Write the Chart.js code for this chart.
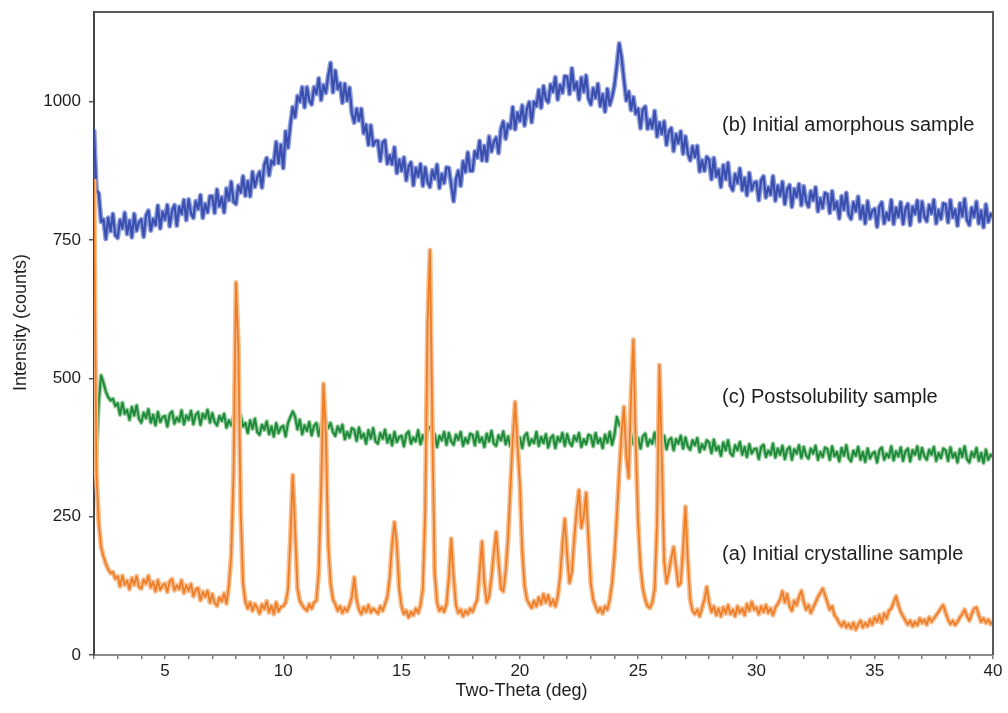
<!DOCTYPE html>
<html>
<head>
<meta charset="utf-8">
<title>X-ray powder diffraction patterns</title>
<script src="https://cdn.jsdelivr.net/npm/chart.js@4.4.1/dist/chart.umd.min.js"></script>
<style>
  html, body { margin: 0; padding: 0; background: #ffffff; }
  #wrap { position: relative; width: 1008px; height: 713px; }
</style>
</head>
<body>
<div id="wrap"><canvas id="xrd"></canvas></div>
<script>
// Scan grid of the diffractometer: 2.0° to 40.0° two-theta, 0.1° per step
const scanStart = 2.0;
const scanStep = 0.1;

// (b) initial amorphous sample, counts per step (rows of 1°, 2.0° .. 39.9°, then 40.0°)
const amorphous = [
  950, 840, 834, 783, 787, 752, 790, 766, 797, 759,
  754, 786, 771, 799, 761, 785, 755, 797, 767, 782,
  787, 756, 794, 803, 767, 788, 777, 812, 771, 801,
  787, 813, 775, 803, 813, 776, 810, 797, 822, 786,
  823, 798, 790, 820, 806, 831, 790, 815, 800, 829,
  829, 799, 841, 811, 827, 800, 843, 822, 855, 819,
  815, 848, 836, 865, 830, 856, 829, 873, 846, 863,
  873, 845, 886, 898, 867, 893, 887, 927, 889, 922,
  880, 946, 917, 958, 990, 972, 1010, 1000, 1026, 990,
  1026, 1002, 995, 1026, 1014, 1042, 1003, 1030, 1016, 1046,
  1070, 1017, 1056, 1023, 1033, 998, 1032, 1002, 1025, 979,
  962, 987, 966, 987, 943, 958, 922, 957, 921, 929,
  929, 893, 926, 930, 888, 903, 887, 917, 871, 895,
  875, 899, 858, 883, 890, 849, 880, 865, 887, 848,
  881, 855, 846, 876, 861, 886, 844, 869, 853, 881,
  880, 849, 820, 860, 875, 848, 892, 873, 908, 875,
  875, 910, 899, 929, 894, 920, 893, 937, 910, 927,
  935, 907, 950, 964, 933, 959, 952, 990, 950, 980,
  965, 993, 957, 987, 999, 963, 1000, 992, 1021, 989,
  1028, 1005, 999, 1031, 1018, 1044, 1004, 1030, 1016, 1046,
  1045, 1014, 1060, 1022, 1035, 1004, 1043, 1018, 1047, 1006,
  995, 1024, 1007, 1032, 992, 1013, 982, 1023, 994, 1009,
  1030, 1065, 1105, 1080, 1040, 1002, 1018, 985, 1008, 978,
  987, 952, 986, 991, 951, 967, 952, 983, 937, 962,
  942, 964, 922, 946, 952, 911, 941, 925, 946, 906,
  937, 907, 894, 919, 900, 920, 874, 894, 875, 900,
  895, 860, 898, 865, 877, 846, 885, 860, 889, 849,
  840, 869, 853, 879, 840, 862, 831, 871, 840, 853,
  855, 822, 858, 865, 827, 845, 832, 865, 821, 848,
  830, 855, 815, 841, 849, 810, 842, 828, 851, 813,
  847, 820, 810, 838, 822, 845, 802, 825, 808, 835,
  832, 799, 838, 806, 819, 789, 829, 805, 835, 796,
  788, 818, 802, 828, 789, 811, 780, 820, 789, 803,
  806, 774, 810, 818, 780, 799, 787, 822, 779, 808,
  792, 818, 779, 806, 815, 777, 810, 797, 821, 784,
  819, 793, 784, 813, 798, 822, 780, 804, 788, 816,
  814, 782, 822, 791, 805, 776, 816, 793, 824, 786,
  777, 808, 792, 819, 780, 803, 773, 814, 783, 797,
  792
];

// (c) postsolubility sample, counts per step
const postSolubility = [
  620, 360, 458, 505, 492, 476, 466, 460, 463, 450,
  455, 434, 456, 436, 443, 425, 448, 433, 451, 427,
  420, 438, 428, 444, 420, 434, 415, 439, 421, 430,
  432, 413, 435, 440, 418, 429, 422, 442, 417, 433,
  425, 441, 417, 434, 439, 416, 436, 428, 443, 420,
  437, 421, 415, 432, 423, 436, 411, 424, 415, 431,
  428, 438, 433, 413, 419, 401, 424, 409, 427, 403,
  398, 416, 407, 422, 399, 413, 395, 419, 401, 411,
  414, 395, 419, 430, 440, 431, 408, 425, 399, 415,
  405, 421, 397, 414, 419, 396, 416, 428, 423, 410,
  419, 403, 396, 413, 403, 416, 390, 403, 393, 410,
  407, 387, 411, 392, 400, 382, 406, 391, 410, 386,
  382, 401, 391, 407, 384, 397, 379, 403, 385, 394,
  396, 377, 399, 404, 382, 393, 386, 406, 381, 397,
  386, 409, 412, 402, 399, 376, 396, 388, 403, 380,
  401, 386, 380, 398, 389, 403, 378, 392, 383, 400,
  398, 379, 403, 385, 393, 376, 400, 386, 405, 382,
  378, 397, 388, 404, 381, 395, 377, 401, 410, 392,
  393, 374, 396, 401, 379, 390, 383, 403, 378, 394,
  383, 399, 375, 392, 397, 374, 394, 386, 401, 378,
  399, 384, 378, 396, 387, 401, 376, 390, 381, 398,
  396, 377, 401, 383, 391, 374, 398, 384, 403, 380,
  398, 430, 416, 410, 384, 395, 376, 399, 381, 390,
  392, 373, 395, 400, 378, 389, 382, 402, 377, 405,
  392, 396, 372, 388, 392, 370, 390, 382, 396, 373,
  393, 377, 371, 388, 379, 392, 367, 381, 372, 388,
  384, 365, 389, 370, 377, 360, 384, 370, 388, 365,
  360, 379, 370, 385, 362, 376, 358, 381, 364, 372,
  373, 354, 376, 380, 358, 369, 362, 382, 357, 373,
  362, 378, 354, 371, 376, 353, 372, 364, 379, 356,
  376, 361, 355, 373, 364, 378, 353, 367, 358, 375,
  372, 353, 377, 359, 367, 350, 374, 360, 379, 356,
  350, 369, 360, 376, 353, 367, 349, 373, 355, 364,
  367, 348, 370, 375, 353, 364, 357, 377, 352, 368,
  359, 375, 351, 368, 373, 350, 370, 362, 377, 354,
  374, 359, 353, 371, 362, 376, 351, 365, 356, 373,
  370, 351, 375, 357, 365, 348, 372, 358, 377, 354,
  348, 367, 358, 374, 351, 365, 347, 371, 353, 362,
  358
];

// (a) initial crystalline sample, counts per step
const crystalline = [
  860, 330, 240, 195, 178, 165, 155, 148, 150, 138,
  142, 124, 143, 127, 134, 119, 139, 127, 142, 123,
  120, 136, 129, 143, 122, 132, 115, 135, 118, 126,
  129, 114, 133, 137, 117, 126, 119, 135, 112, 126,
  116, 128, 106, 118, 121, 99, 114, 105, 116, 95,
  110, 94, 89, 104, 97, 111, 93, 125, 180, 330,
  673, 560, 260, 130, 96, 84, 95, 80, 92, 85,
  75, 91, 83, 97, 77, 89, 74, 95, 79, 87,
  88, 95, 118, 210, 325, 230, 120, 98, 90, 84,
  80, 92, 84, 95, 98, 150, 300, 490, 400, 200,
  130, 100, 92, 80, 88, 76, 85, 79, 90, 105,
  140, 100, 82, 74, 86, 78, 90, 77, 84, 80,
  75, 88, 80, 92, 105, 140, 200, 240, 200, 120,
  88, 74, 80, 68, 78, 72, 84, 76, 90, 120,
  260, 600, 732, 420, 150, 95, 80, 86, 78, 92,
  140, 210, 140, 90, 76, 82, 70, 80, 74, 84,
  78, 90, 100, 150, 205, 130, 95, 105, 140, 185,
  222, 170, 120, 115, 150, 210, 300, 390, 457, 380,
  310, 190, 125, 100, 92, 85, 98, 88, 104, 92,
  110, 95, 108, 90, 100, 88, 105, 140, 200, 246,
  180, 130, 150, 210, 260, 298, 230, 250, 293, 210,
  130, 100, 88, 78, 85, 75, 88, 82, 100, 130,
  180, 250, 330, 400, 448, 360, 320, 470, 570, 380,
  240, 160, 120, 100, 88, 85, 95, 120, 240, 524,
  360, 170, 130, 150, 175, 195, 160, 125, 130, 190,
  268, 170, 100, 80, 74, 82, 70, 85, 100, 123,
  95, 78, 88, 72, 84, 70, 86, 75, 90, 74,
  82, 70, 88, 76, 84, 72, 92, 80, 96, 82,
  86, 74, 88, 78, 90, 76, 84, 72, 86, 92,
  100, 115, 95, 110, 88, 80, 98, 90, 105, 116,
  96, 82, 90, 76, 86, 95, 105, 112, 120, 108,
  95, 82, 88, 72, 66, 58, 52, 60, 50, 56,
  48, 58, 46, 55, 62, 50, 58, 52, 64, 55,
  68, 60, 72, 58, 75, 66, 80, 84, 95, 106,
  90, 78, 70, 62, 55, 62, 52, 60, 54, 66,
  58, 64, 55, 68, 60, 66, 72, 78, 85, 90,
  76, 64, 56, 62, 54, 60, 68, 74, 82, 70,
  62, 74, 84, 86, 72, 60, 66, 58, 64, 56,
  62
];

// Axis ticks
const xTickValues = [2, 3, 4, 5, 6, 7, 8, 9, 10, 11, 12, 13, 14, 15, 16, 17, 18, 19, 20,
  21, 22, 23, 24, 25, 26, 27, 28, 29, 30, 31, 32, 33, 34, 35, 36, 37, 38, 39, 40];
const xTickLabels = [5, 10, 15, 20, 25, 30, 35, 40];
const yTickValues = [0, 250, 500, 750, 1000];

// Axis titles
const xTitle = 'Two-Theta (deg)';
const yTitle = 'Intensity (counts)';

// Pattern captions, anchored in data units (left edge, vertical middle)
const captions = [
  { text: '(b) Initial amorphous sample', x: 28.55, y: 957 },
  { text: '(c) Postsolubility sample', x: 28.55, y: 465 },
  { text: '(a) Initial crystalline sample', x: 28.55, y: 181 }
];

const FONT = '"Liberation Sans", Arial, Helvetica, sans-serif';
const INK = '#1e1e1e';

function toPoints(values) {
  return values.map((v, i) => ({ x: +(scanStart + i * scanStep).toFixed(1), y: v }));
}

function trace(values, color, width, order) {
  return {
    data: toPoints(values),
    borderColor: color,
    borderWidth: width,
    borderJoinStyle: 'round',
    pointRadius: 0,
    tension: 0,
    fill: false,
    order: order
  };
}

// Closes the plot box on the top and right sides
const plotFrame = {
  id: 'plotFrame',
  afterDraw(chart) {
    const { ctx, chartArea: a } = chart;
    ctx.save();
    ctx.strokeStyle = '#5a5a5a';
    ctx.lineWidth = 2;
    ctx.beginPath();
    ctx.moveTo(a.left, a.top);
    ctx.lineTo(a.right, a.top);
    ctx.lineTo(a.right, a.bottom);
    ctx.stroke();
    ctx.restore();
  }
};

// Axis titles, set a little off the plot centre
const axisTitles = {
  id: 'axisTitles',
  afterDraw(chart) {
    const { ctx, chartArea: a } = chart;
    ctx.save();
    ctx.font = '18px ' + FONT;
    ctx.fillStyle = INK;
    ctx.textAlign = 'center';
    ctx.textBaseline = 'middle';
    ctx.fillText(xTitle, (a.left + a.right) / 2 - 22, a.bottom + 36);
    ctx.translate(21, (a.top + a.bottom) / 2 - 11);
    ctx.rotate(-Math.PI / 2);
    ctx.fillText(yTitle, 0, 0);
    ctx.restore();
  }
};

// Writes the sample captions next to each pattern
const patternCaptions = {
  id: 'patternCaptions',
  afterDatasetsDraw(chart) {
    const { ctx, scales } = chart;
    ctx.save();
    ctx.font = '20px ' + FONT;
    ctx.fillStyle = INK;
    ctx.textAlign = 'left';
    ctx.textBaseline = 'middle';
    captions.forEach(c => {
      ctx.fillText(c.text, scales.x.getPixelForValue(c.x), scales.y.getPixelForValue(c.y));
    });
    ctx.restore();
  }
};

new Chart(document.getElementById('xrd'), {
  type: 'line',
  data: {
    datasets: [
      trace(amorphous, 'rgba(105,124,210,0.75)', 5, 6),
      trace(amorphous, '#3a4fae', 2.2, 5),
      trace(postSolubility, 'rgba(105,185,112,0.7)', 4.4, 4),
      trace(postSolubility, '#1f8a3b', 2, 3),
      trace(crystalline, '#f7bf90', 5, 2),
      trace(crystalline, '#ee7d28', 1.8, 1)
    ]
  },
  options: {
    responsive: true,
    maintainAspectRatio: false,
    animation: false,
    parsing: false,
    normalized: true,
    layout: { padding: { left: 0, right: 15, top: 12, bottom: 0 } },
    plugins: {
      legend: { display: false },
      tooltip: { enabled: false }
    },
    scales: {
      x: {
        type: 'linear',
        min: 2,
        max: 40,
        afterBuildTicks: s => { s.ticks = xTickValues.map(v => ({ value: v })); },
        afterFit: s => { s.height = 58; },
        ticks: {
          autoSkip: false,
          maxRotation: 0,
          padding: 2,
          color: INK,
          font: { family: FONT, size: 17 },
          callback: v => xTickLabels.includes(v) ? String(v) : ''
        },
        grid: { drawOnChartArea: false, drawTicks: true, tickLength: 4, color: '#7a7a7a', lineWidth: 1.5 },
        border: { display: true, color: '#8c8c8c', width: 2 },
        title: { display: false }
      },
      y: {
        type: 'linear',
        min: 0,
        max: 1162,
        afterBuildTicks: s => { s.ticks = yTickValues.map(v => ({ value: v })); },
        afterFit: s => { s.width = 94; s.paddingTop = 0; s.paddingBottom = 0; },
        ticks: {
          padding: 8,
          color: INK,
          font: { family: FONT, size: 17 },
          callback: v => String(v)
        },
        grid: { drawOnChartArea: false, drawTicks: true, tickLength: 5, color: '#555555', lineWidth: 1.5 },
        border: { display: true, color: '#444444', width: 2 },
        title: { display: false }
      }
    }
  },
  plugins: [plotFrame, axisTitles, patternCaptions]
});
</script>
</body>
</html>
